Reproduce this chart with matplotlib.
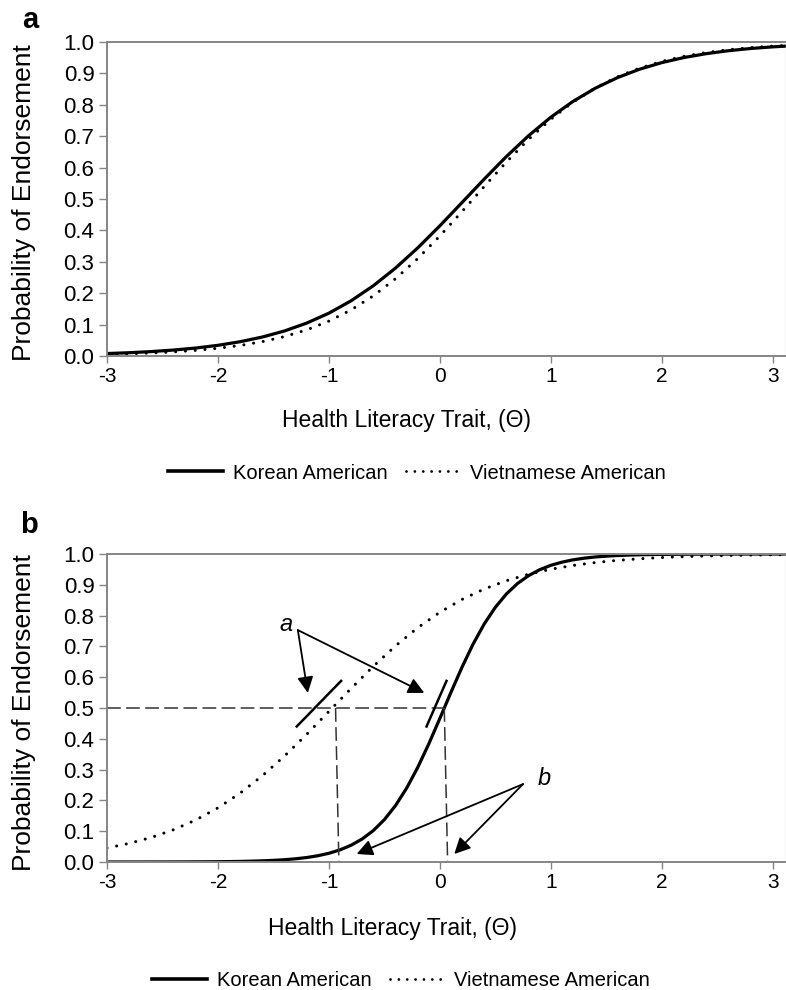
import matplotlib
matplotlib.use('Agg')
import matplotlib.pyplot as plt
from matplotlib.lines import Line2D

plt.rcParams['font.family'] = ['Liberation Sans', 'DejaVu Sans']
plt.rcParams['axes.unicode_minus'] = False

# panel a: item curves (step 0.2)
theta_a = [-3.0, -2.8, -2.6, -2.4, -2.2, -2.0, -1.8, -1.6, -1.4, -1.2, -1.0,
           -0.8, -0.6, -0.4, -0.2, 0.0, 0.2, 0.4, 0.6, 0.8, 1.0,
           1.2, 1.4, 1.6, 1.8, 2.0, 2.2, 2.4, 2.6, 2.8, 3.0, 3.2]
korean_a = [0.0078, 0.0105, 0.0141, 0.0190, 0.0254, 0.0340, 0.0455, 0.0604, 0.0798, 0.1048, 0.1364,
            0.1758, 0.2236, 0.2799, 0.3441, 0.4146, 0.4888, 0.5634, 0.6353, 0.7016, 0.7604,
            0.8108, 0.8526, 0.8864, 0.9133, 0.9343, 0.9505, 0.9628, 0.9722, 0.9793, 0.9845, 0.9885]
vietnamese_a = [0.0051, 0.0070, 0.0096, 0.0131, 0.0180, 0.0246, 0.0336, 0.0457, 0.0618, 0.0832, 0.1111,
                0.1468, 0.1915, 0.2460, 0.3100, 0.3822, 0.4601, 0.5399, 0.6178, 0.6900, 0.7540,
                0.8085, 0.8532, 0.8889, 0.9168, 0.9382, 0.9544, 0.9664, 0.9754, 0.9820, 0.9869, 0.9904]

# panel b
theta_b_viet = theta_a
vietnamese_b = [0.0455, 0.0604, 0.0798, 0.1048, 0.1364, 0.1758, 0.2236, 0.2799, 0.3441, 0.4146, 0.4888,
                0.5634, 0.6353, 0.7016, 0.7604, 0.8108, 0.8526, 0.8864, 0.9133, 0.9343, 0.9505,
                0.9628, 0.9722, 0.9793, 0.9845, 0.9885, 0.9915, 0.9937, 0.9953, 0.9965, 0.9974, 0.9981]
theta_b_kor = [-3.0, -2.9, -2.8, -2.7, -2.6, -2.5, -2.4, -2.3, -2.2, -2.1, -2.0,
               -1.9, -1.8, -1.7, -1.6, -1.5, -1.4, -1.3, -1.2, -1.1, -1.0,
               -0.9, -0.8, -0.7, -0.6, -0.5, -0.4, -0.3, -0.2, -0.1, 0.0,
               0.1, 0.2, 0.3, 0.4, 0.5, 0.6, 0.7, 0.8, 0.9, 1.0,
               1.1, 1.2, 1.3, 1.4, 1.5, 1.6, 1.7, 1.8, 1.9, 2.0,
               2.1, 2.2, 2.3, 2.4, 2.5, 2.6, 2.7, 2.8, 2.9, 3.0, 3.1, 3.2]
korean_b = [0.00003, 0.00005, 0.00006, 0.00009, 0.00013, 0.00018, 0.00025, 0.00035, 0.00049, 0.00069, 0.00097,
            0.00136, 0.00191, 0.00269, 0.00377, 0.00529, 0.00742, 0.0104, 0.0145, 0.0203, 0.0283,
            0.0393, 0.0544, 0.0748, 0.1019, 0.1375, 0.1830, 0.2394, 0.3066, 0.3832, 0.4660,
            0.5508, 0.6327, 0.7077, 0.7728, 0.8269, 0.8703, 0.9042, 0.9298, 0.9490, 0.9632,
            0.9735, 0.9810, 0.9864, 0.9903, 0.9930, 0.9950, 0.9965, 0.9975, 0.9982, 0.9987,
            0.9991, 0.9993, 0.9995, 0.9997, 0.9998, 0.9998, 0.9999, 0.9999, 0.9999, 1.0, 1.0, 1.0]

# location (b) and slope (a) markers in panel b
b_viet_top, b_viet_bottom = -0.94, -0.91
b_kor_top, b_kor_bottom = 0.04, 0.07
half = 0.5
slope_viet_x = [-1.29, -0.89]
slope_kor_x = [-0.12, 0.06]
slope_y = [0.44, 0.588]

yticks = [0.0, 0.1, 0.2, 0.3, 0.4, 0.5, 0.6, 0.7, 0.8, 0.9, 1.0]
xticks = [-3, -2, -1, 0, 1, 2, 3]

spine_col = '#858585'
dot_style = (0, (0.01, 3.2))

fig = plt.figure(figsize=(7.86, 9.9), dpi=100)
ax_a = fig.add_axes([107 / 786, 1 - 356 / 990, 1 - 107 / 786, 314 / 990])
ax_b = fig.add_axes([107 / 786, 1 - 862 / 990, 1 - 107 / 786, 308 / 990])


def style_axes(ax):
    ax.set_xlim(-3, 3.12)
    ax.set_ylim(0, 1)
    ax.set_yticks(yticks)
    ax.set_yticklabels(['%.1f' % v for v in yticks])
    ax.set_xticks(xticks)
    ax.set_xticklabels([str(v) for v in xticks])
    ax.tick_params(axis='y', labelsize=16, direction='out', length=6, width=1, color=spine_col, pad=3)
    ax.tick_params(axis='x', labelsize=15, direction='out', length=5, width=1, color=spine_col, pad=3)
    for s in ['left', 'top', 'bottom']:
        ax.spines[s].set_color(spine_col)
        ax.spines[s].set_linewidth(1.4)
    ax.spines['right'].set_color('#cccccc')
    ax.spines['right'].set_linewidth(1.0)


# panel a
ax_a.plot(theta_a, vietnamese_a, color='black', lw=2.2, ls=dot_style, dash_capstyle='round')
ax_a.plot(theta_a, korean_a, color='black', lw=2.3)
style_axes(ax_a)

# panel b
ax_b.plot(theta_b_viet, vietnamese_b, color='black', lw=2.2, ls=dot_style, dash_capstyle='round')
ax_b.plot(theta_b_kor, korean_b, color='black', lw=2.3)
style_axes(ax_b)

dash_kw = dict(color='#333333', lw=1.1, ls=(0, (9, 3.5)))
ax_b.plot([-3, b_kor_top], [half, half], **dash_kw)
ax_b.plot([b_viet_top, b_viet_bottom], [half, 0], **dash_kw)
ax_b.plot([b_kor_top, b_kor_bottom], [half, 0], **dash_kw)
ax_b.plot(slope_viet_x, slope_y, color='black', lw=1.8)
ax_b.plot(slope_kor_x, slope_y, color='black', lw=1.8)

arrow_kw = dict(arrowstyle='-|>', color='black', lw=1.3, mutation_scale=24, shrinkA=0, shrinkB=0)
ax_b.text(-1.39, 0.77, 'a', fontsize=17, style='italic', ha='center', va='center')
ax_b.annotate('', xy=(-1.19, 0.549), xytext=(-1.28, 0.753), arrowprops=arrow_kw)
ax_b.annotate('', xy=(-0.14, 0.549), xytext=(-1.28, 0.753), arrowprops=arrow_kw)
ax_b.text(0.94, 0.27, 'b', fontsize=17, style='italic', ha='center', va='center')
ax_b.annotate('', xy=(-0.75, 0.026), xytext=(0.75, 0.253), arrowprops=arrow_kw)
ax_b.annotate('', xy=(0.13, 0.026), xytext=(0.75, 0.253), arrowprops=arrow_kw)

# labels
fig.text(0.031, 1 - 203 / 990, 'Probability of Endorsement', rotation=90, fontsize=19, ha='center', va='center')
fig.text(0.031, 1 - 713 / 990, 'Probability of Endorsement', rotation=90, fontsize=19, ha='center', va='center')
fig.text(407 / 786, 1 - 420 / 990, 'Health Literacy Trait, (\u0398)', fontsize=16.5, ha='center', va='center')
fig.text(393 / 786, 1 - 928 / 990, 'Health Literacy Trait, (\u0398)', fontsize=16.5, ha='center', va='center')
fig.text(30 / 786, 1 - 20 / 990, 'a', fontsize=21, fontweight='bold', ha='center', va='center')
fig.text(29 / 786, 1 - 525 / 990, 'b', fontsize=21, fontweight='bold', ha='center', va='center')

handles = [Line2D([], [], color='black', lw=2.6),
           Line2D([], [], color='black', lw=2.0, ls=(0, (0.01, 3.0)), dash_capstyle='round')]
names = ['Korean American', 'Vietnamese American']
for cx, cy in [(417 / 786, 1 - 473 / 990), (401 / 786, 1 - 981 / 990)]:
    fig.legend(handles, names, loc='center', bbox_to_anchor=(cx, cy), ncol=2, frameon=False,
               fontsize=14.5, handlelength=2.7, handletextpad=0.5, columnspacing=0.9,
               borderpad=0, borderaxespad=0)

fig.savefig('out.png', dpi=100)
